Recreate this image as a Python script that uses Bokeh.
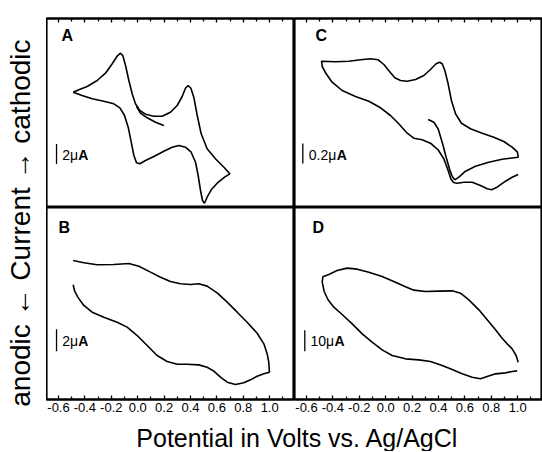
from bokeh.plotting import figure
from bokeh.layouts import row, column
from bokeh.models import Range1d, FixedTicker, NumeralTickFormatter, Label
from bokeh.embed import file_html
from bokeh.resources import INLINE
from bokeh.core.properties import value

FONT = "Liberation Sans"

# ---------------- data (potential in V, current in uA, cathodic positive) -------------
MAJOR_TICKS = [-0.6, -0.4, -0.2, 0.0, 0.2, 0.4, 0.6, 0.8, 1.0]
MINOR_TICKS = [-0.7, -0.5, -0.3, -0.1, 0.1, 0.3, 0.5, 0.7, 0.9, 1.1]

A_LOOP_V = [-0.489, -0.446, -0.383, -0.307, -0.244, -0.193, -0.156, -0.130, -0.113, -0.092,
            -0.067, -0.042, -0.017, 0.016, 0.059, 0.122, 0.185, 0.248, 0.299, 0.337,
            0.362, 0.382, 0.403, 0.425, 0.451, 0.481, 0.526, 0.589, 0.653, 0.698,
            0.658, 0.602, 0.557, 0.526, 0.506, 0.491, 0.476, 0.458, 0.438, 0.405,
            0.362, 0.312, 0.261, 0.198, 0.122, 0.059, 0.016, -0.009, -0.029, -0.049,
            -0.072, -0.100, -0.135, -0.181, -0.257, -0.345, -0.421, -0.489]
A_LOOP_I = [2.13, 2.37, 2.70, 3.30, 4.03, 4.97, 5.73, 6.03, 5.80, 4.80,
            3.30, 1.97, 0.97, 0.30, -0.07, -0.27, -0.27, 0.13, 0.80, 1.70,
            2.53, 2.80, 2.53, 1.63, -0.20, -2.03, -3.53, -4.53, -5.37, -6.03,
            -6.37, -6.97, -7.63, -8.37, -8.97, -8.70, -7.70, -6.20, -4.87, -3.87,
            -3.37, -3.20, -3.37, -3.77, -4.30, -4.70, -5.03, -4.93, -4.20, -2.87,
            -1.37, -0.20, 0.57, 0.97, 1.23, 1.47, 1.80, 2.13]
A_TAIL_V = [0.198, 0.135, 0.072, 0.021, -0.009]
A_TAIL_I = [-1.20, -0.87, -0.43, 0.03, 0.70]

B_V = [-0.489, -0.408, -0.307, -0.181, -0.067, 0.009, 0.097, 0.173, 0.248, 0.324,
       0.400, 0.463, 0.526, 0.602, 0.678, 0.754, 0.829, 0.905, 0.956, 0.981,
       0.993, 0.998,
       0.956, 0.905, 0.855, 0.804, 0.741, 0.678, 0.627, 0.577, 0.526, 0.463,
       0.375, 0.299, 0.223, 0.147, 0.072, -0.004, -0.080, -0.156, -0.257, -0.345,
       -0.408, -0.454, -0.479, -0.489]
B_I = [3.91, 3.70, 3.52, 3.55, 3.64, 3.39, 2.85, 2.39, 2.00, 1.79,
       1.73, 1.79, 1.58, 0.97, 0.12, -0.79, -1.70, -2.70, -3.67, -4.58,
       -5.33, -6.24,
       -6.39, -6.61, -6.94, -7.21, -7.36, -7.15, -6.70, -6.15, -5.79, -5.58,
       -5.52, -5.52, -5.27, -4.73, -3.82, -2.91, -2.15, -1.70, -1.24, -0.79,
       -0.18, 0.58, 1.18, 1.70]

C_V = [0.322, 0.365, 0.397, 0.428, 0.458, 0.483, 0.504, 0.524, 0.554, 0.605,
       0.680, 0.781, 0.882, 1.004,
       0.998, 0.958, 0.895, 0.819, 0.731, 0.642, 0.574, 0.529, 0.498, 0.473,
       0.448, 0.428, 0.408, 0.382, 0.339, 0.289, 0.226, 0.163, 0.112, 0.069,
       0.029, -0.014, -0.057, -0.115, -0.191, -0.279, -0.380, -0.486,
       -0.481, -0.451, -0.406, -0.330, -0.229, -0.128, -0.039, 0.036, 0.099, 0.163,
       0.213, 0.276, 0.339, 0.397, 0.440, 0.473, 0.493, 0.514, 0.541, 0.592,
       0.655, 0.718, 0.769, 0.802, 0.844, 0.908, 0.958, 1.004]
C_I = [-0.060, -0.087, -0.153, -0.287, -0.437, -0.553, -0.630, -0.663, -0.637, -0.577,
       -0.527, -0.487, -0.457, -0.437,
       -0.387, -0.337, -0.280, -0.237, -0.197, -0.153, -0.097, -0.003, 0.130, 0.297,
       0.430, 0.497, 0.513, 0.497, 0.440, 0.380, 0.340, 0.323, 0.330, 0.357,
       0.420, 0.490, 0.537, 0.547, 0.537, 0.523, 0.517, 0.523,
       0.470, 0.397, 0.313, 0.230, 0.170, 0.123, 0.057, -0.020, -0.103, -0.197,
       -0.247, -0.263, -0.297, -0.363, -0.453, -0.570, -0.653, -0.690, -0.697, -0.687,
       -0.687, -0.720, -0.753, -0.763, -0.737, -0.677, -0.637, -0.610]

D_V = [1.004, 0.988, 0.958, 0.920, 0.882, 0.832, 0.769, 0.706, 0.630, 0.567,
       0.504, 0.403, 0.302, 0.213, 0.150, 0.074, -0.027, -0.128, -0.216, -0.292,
       -0.368, -0.431, -0.476,
       -0.481, -0.466, -0.438, -0.393, -0.330, -0.254, -0.178, -0.103, -0.027, 0.049,
       0.150, 0.251, 0.339, 0.428, 0.504, 0.579, 0.655, 0.718, 0.769, 0.832,
       0.908, 0.958, 0.996]
D_I = [-27.94, -24.76, -21.59, -19.21, -16.51, -12.54, -7.78, -3.02, 1.75, 4.92,
       6.03, 5.87, 5.71, 6.35, 7.94, 10.16, 12.86, 14.92, 16.35, 16.83,
       15.71, 13.81, 12.70,
       10.16, 5.71, 1.90, -1.75, -5.24, -9.68, -14.44, -18.41, -22.06, -24.76,
       -26.35, -26.83, -27.62, -29.52, -31.43, -33.49, -35.08, -35.87, -34.76, -33.49,
       -33.02, -32.38, -32.06]

PANEL_LABELS = ["A", "B", "C", "D"]
SCALE_VALUES = [2, 2, 0.2, 10]          # scale bar length, uA
SCALE_TEXT = ["2\u03bc", "2\u03bc", "0.2\u03bc", "10\u03bc"]

X_LABEL = "Potential in Volts vs. Ag/AgCl"
Y_LABEL = "anodic  \u2190  Current  \u2192  cathodic"

X_RANGE = (-0.691, 1.188)


def panel(height, top, bottom, yr, axis_loc, show_labels):
    p = figure(width=248, height=height,
               x_range=Range1d(*X_RANGE), y_range=Range1d(*yr),
               output_backend="svg", toolbar_location=None,
               x_axis_location=axis_loc, y_axis_location=None,
               min_border_left=0, min_border_right=0,
               min_border_top=top, min_border_bottom=bottom)
    p.grid.visible = False
    p.outline_line_color = "black"
    p.outline_line_width = 2.2
    p.background_fill_color = "white"
    p.border_fill_color = "white"
    ax = p.xaxis[0]
    ax.ticker = FixedTicker(ticks=MAJOR_TICKS, minor_ticks=MINOR_TICKS)
    ax.formatter = NumeralTickFormatter(format="0.0")
    ax.axis_line_width = 2
    ax.axis_line_color = "black"
    ax.major_tick_in = 4
    ax.major_tick_out = 0
    ax.minor_tick_in = 3
    ax.minor_tick_out = 0
    ax.major_tick_line_width = 1.3
    ax.minor_tick_line_width = 1.3
    ax.major_tick_line_color = "black"
    ax.minor_tick_line_color = "black"
    if show_labels:
        ax.major_label_text_font = FONT
        ax.major_label_text_font_size = "13px"
        ax.major_label_text_color = "black"
        ax.major_label_standoff = 3
    else:
        ax.major_label_text_font_size = "1px"
        ax.major_label_text_color = None
        ax.major_label_standoff = 0
    return p


def letter(p, x, y, s):
    p.text(x=[x], y=[y], text=[s], text_font=value(FONT), text_font_size="16px",
           text_font_style="bold", text_color="black",
           text_align="left", text_baseline="alphabetic")


def scalebar(p, x, y0, length, tx, ty, num, a_off):
    p.segment(x0=[x], y0=[y0], x1=[x], y1=[y0 + length], line_color="black", line_width=1.3)
    p.text(x=[tx], y=[ty], text=[num], text_font=value(FONT), text_font_size="14px",
           text_color="black", text_align="left", text_baseline="middle")
    p.text(x=[tx], y=[ty], text=["A"], x_offset=a_off, text_font=value(FONT),
           text_font_size="14px", text_font_style="bold", text_color="black",
           text_align="left", text_baseline="middle")


LW = 1.6

# Panel A (top-left)
pA = panel(207, 18, 0, (-9.4, 9.5), "above", False)
pA.line(A_LOOP_V, A_LOOP_I, line_color="black", line_width=LW)
pA.line(A_TAIL_V, A_TAIL_I, line_color="black", line_width=LW)
letter(pA, -0.577, 7.8, PANEL_LABELS[0])
scalebar(pA, -0.615, -5.05, SCALE_VALUES[0], -0.572, -4.1, SCALE_TEXT[0], 16)

# Panel C (top-right)
pC = panel(207, 18, 0, (-0.94, 0.95), "above", False)
pC.line(C_V, C_I, line_color="black", line_width=LW)
letter(pC, -0.532, 0.78, PANEL_LABELS[2])
scalebar(pC, -0.628, -0.50, SCALE_VALUES[2], -0.583, -0.41, SCALE_TEXT[2], 28)

# Panel B (bottom-left)
pB = panel(216, 0, 24, (-8.727, 8.727), "below", True)
pB.line(B_V, B_I, line_color="black", line_width=LW)
letter(pB, -0.600, 6.91, PANEL_LABELS[1])
scalebar(pB, -0.615, -4.33, SCALE_VALUES[1], -0.572, -3.4, SCALE_TEXT[1], 16)

# Panel D (bottom-right)
pD = panel(216, 0, 24, (-45.71, 45.71), "below", True)
pD.line(D_V, D_I, line_color="black", line_width=LW)
letter(pD, -0.555, 36.19, PANEL_LABELS[3])
scalebar(pD, -0.613, -22.7, SCALE_VALUES[3], -0.570, -17.9, SCALE_TEXT[3], 24)

# y label strip
py = figure(width=46, height=451, x_range=Range1d(0, 46), y_range=Range1d(0, 451),
            output_backend="svg", toolbar_location=None,
            x_axis_location=None, y_axis_location=None,
            min_border_left=0, min_border_right=0, min_border_top=0, min_border_bottom=0)
py.grid.visible = False
py.outline_line_color = None
py.add_layout(Label(x=20, y=244, text=Y_LABEL, angle=1.5707963, text_font=FONT,
                    text_font_size="28px", text_color="black",
                    text_align="center", text_baseline="middle"))

# x label strip
px = figure(width=496, height=28, x_range=Range1d(0, 496), y_range=Range1d(0, 28),
            output_backend="svg", toolbar_location=None,
            x_axis_location=None, y_axis_location=None,
            min_border_left=0, min_border_right=0, min_border_top=0, min_border_bottom=0)
px.grid.visible = False
px.outline_line_color = None
px.add_layout(Label(x=251, y=14, text=X_LABEL, text_font=FONT,
                    text_font_size="25px", text_color="black",
                    text_align="center", text_baseline="middle"))

layout = row(py, column(row(pA, pC), row(pB, pD), px))

open("out.html", "w").write(file_html(layout, INLINE))
